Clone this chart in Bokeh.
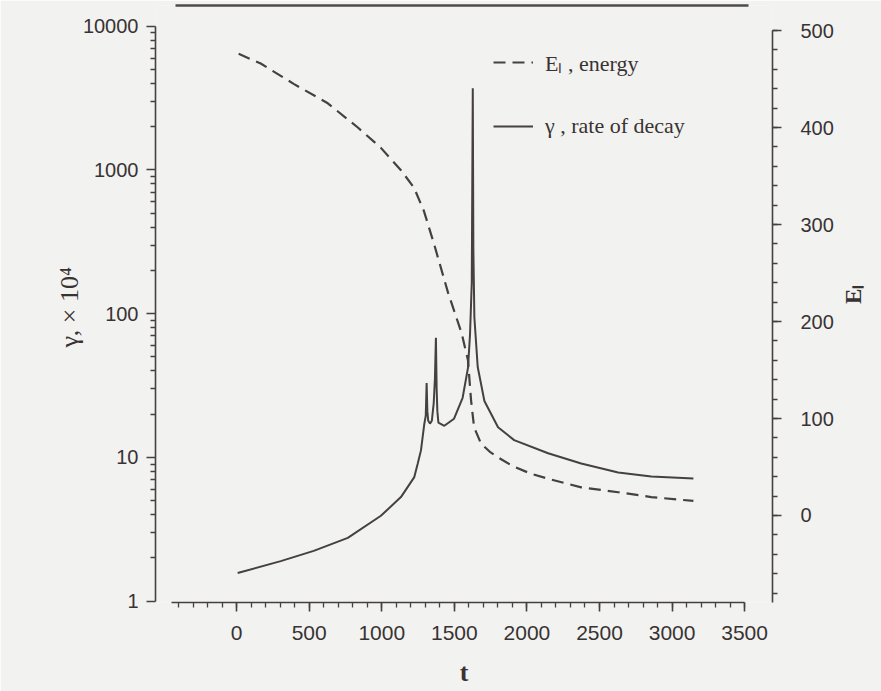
import math
from bokeh.plotting import figure
from bokeh.models import (Range1d, LinearAxis, SingleIntervalTicker, FixedTicker,
                          Legend, LegendItem, NumeralTickFormatter, LinearScale)
from bokeh.embed import file_html
from bokeh.resources import INLINE

# ---- data ----
t_energy = [14, 166, 393, 628, 835, 994, 1132, 1222, 1290, 1360, 1456, 1550, 1594,
            1615, 1636, 1684, 1750, 1801, 1900, 2029, 2167, 2374, 2629, 2857, 3147]
energy = [476, 466, 445, 425, 400, 379, 356, 338, 314, 280, 230, 188, 160,
          119, 91, 74, 65, 60, 51, 43, 37, 29, 24, 19, 15]

t_gamma = [7, 304, 531, 766, 994, 1132, 1224, 1247, 1270, 1293, 1303, 1309, 1314, 1320,
           1332, 1345, 1358, 1366, 1373, 1378, 1383, 1390, 1431, 1498, 1557, 1594, 1608,
           1620, 1627, 1631, 1638, 1661, 1707, 1801, 1912, 2146, 2374, 2629, 2857, 3147]
gamma = [1.57, 1.90, 2.24, 2.76, 3.93, 5.3, 7.3, 9.0, 11.2, 17.1, 19.5, 33, 21, 18,
         17.2, 18, 24, 35, 68, 30, 21, 17.5, 16.6, 18.6, 26, 42, 72,
         164, 3700, 280, 94, 42.6, 24.7, 16.2, 13.2, 10.7, 9.08, 7.85, 7.36, 7.13]

t_ticks = [0, 500, 1000, 1500, 2000, 2500, 3000, 3500]
gamma_ticks = [1, 10, 100, 1000, 10000]
energy_ticks = [0, 100, 200, 300, 400, 500]

# ---- styling ----
BG = "#f2f2f0"
INK = "#454041"
TXT = "#383333"
SANS = "Liberation Sans"
SERIF = "Liberation Serif"

W, H = 881, 691
p = figure(width=W, height=H, output_backend="svg", toolbar_location=None,
           y_axis_type="log", x_range=Range1d(-559, 3692), y_range=Range1d(0.98, 13910),
           min_border_left=155, min_border_right=W - 772, min_border_top=5,
           min_border_bottom=H - 602,
           background_fill_color=BG, border_fill_color=BG, outline_line_color=None)
p.grid.visible = False
p.extra_y_ranges = {"E": Range1d(-89.7, 525.8)}
p.extra_y_scales = {"E": LinearScale()}

rE = p.line(t_energy, energy, y_range_name="E", line_color=INK, line_width=2.2,
            line_dash="12 7")
rg = p.line(t_gamma, gamma, line_color=INK, line_width=2)

# x axis
xa = p.xaxis[0]
xa.ticker = SingleIntervalTicker(interval=500, num_minor_ticks=5)
xa.bounds = (-450, 3500)
xa.axis_label = "t"

# left log axis
ya = p.yaxis[0]
minor = [k * 10 ** d for d in range(0, 4) for k in range(2, 10)]
ya.ticker = FixedTicker(ticks=gamma_ticks, minor_ticks=minor)
ya.formatter = NumeralTickFormatter(format="0")
ya.bounds = (1, 10000)
ya.axis_label = "γ,  × 10⁴"

# right energy axis
ra = LinearAxis(y_range_name="E",
                ticker=SingleIntervalTicker(interval=100, num_minor_ticks=5),
                bounds=(-89.7, 500), axis_label="Eₗ")
p.add_layout(ra, "right")
try:
    ra.axis_label_orientation = math.pi / 2   # read bottom to top
except Exception:
    pass

for ax in (xa, ya, ra):
    ax.axis_line_color = INK
    ax.axis_line_width = 1.6
    ax.major_tick_line_color = INK
    ax.minor_tick_line_color = INK
    ax.major_tick_line_width = 1.6
    ax.minor_tick_line_width = 1.3
    ax.major_tick_in = 0
    ax.minor_tick_in = 0
    ax.major_tick_out = 9
    ax.minor_tick_out = 5
    ax.major_label_text_font = SANS
    ax.major_label_text_font_size = "20px"
    ax.major_label_text_color = TXT
    ax.axis_label_text_font = SERIF
    ax.axis_label_text_color = TXT
    ax.axis_label_text_font_style = "normal"

xa.major_label_text_font_size = "21px"
xa.major_label_standoff = 14
xa.axis_label_text_font_size = "26px"
xa.axis_label_text_font_style = "bold"
xa.axis_label_standoff = 15
ya.major_label_standoff = 8
ya.axis_label_text_font_size = "26px"
ya.axis_label_standoff = -4
ra.major_label_standoff = 19
ra.axis_label_text_font_size = "23px"
ra.axis_label_text_font_style = "bold"
ra.axis_label_standoff = 17

# top rule of the scanned page
top = LinearAxis(ticker=FixedTicker(ticks=[]), bounds=(-420, 3530))
top.axis_line_color = "#504b4b"
top.axis_line_width = 2.6
top.major_tick_out = 0
top.major_tick_in = 0
top.minor_tick_out = 0
top.minor_tick_in = 0
top.major_label_standoff = 0
top.axis_label_standoff = 0
p.add_layout(top, "above")

legend = Legend(items=[LegendItem(label="Eₗ , energy", renderers=[rE]),
                       LegendItem(label="γ , rate of decay", renderers=[rg])],
                location=(338, 463), orientation="vertical",
                background_fill_alpha=0, border_line_color=None,
                padding=0, margin=0, glyph_width=40, glyph_height=20,
                label_height=20, spacing=36, label_standoff=12,
                label_text_font=SERIF, label_text_font_size="22px",
                label_text_color=TXT)
p.add_layout(legend, "center")

open("out.html", "w").write(file_html(p, INLINE))
